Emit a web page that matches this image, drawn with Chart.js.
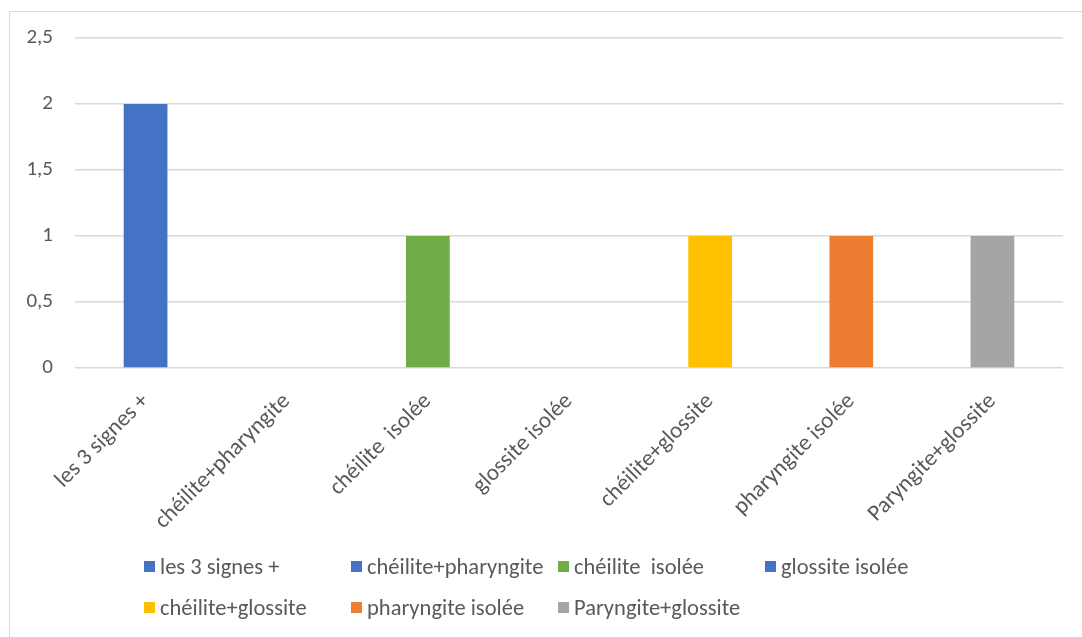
<!DOCTYPE html>
<html lang="fr">
<head>
  <meta charset="UTF-8" />
  <title>Signes cliniques</title>
  <script src="https://cdn.jsdelivr.net/npm/chart.js"></script>
  <style>
    body {
      margin: 0;
      background: #fff;
      font-family: Carlito, Lato, 'Liberation Sans', sans-serif;
    }
    .wrap {
      position: relative;
      width: 1082px;
      height: 637px;
      overflow: hidden;
    }
    .frame {
      position: absolute;
      left: 9px;
      top: 11px;
      width: 1200px;
      height: 800px;
      border: 1.5px solid #d9d9d9;
    }
    canvas {
      position: absolute;
      left: 0;
      top: 0;
    }
    .legend {
      position: absolute;
      left: 144px;
      top: 554px;
      display: grid;
      grid-template-columns: repeat(4, 207px);
      row-gap: 17px;
    }
    .legend div {
      display: flex;
      align-items: center;
      font-size: 22.5px;
      color: #595959;
      white-space: pre;
      height: 24px;
    }
    .legend span {
      display: inline-block;
      width: 11px;
      height: 11px;
      margin-right: 5px;
    }
  </style>
</head>
<body>
<div class="wrap">
  <div class="frame"></div>
  <canvas id="chart"></canvas>
  <div class="legend" id="legend"></div>
</div>

<script>
  const categories = ['les 3 signes +', 'chéilite+pharyngite', 'chéilite  isolée', 'glossite isolée',
                      'chéilite+glossite', 'pharyngite isolée', 'Paryngite+glossite'];
  const values = [2, 0, 1, 0, 1, 1, 1];
  const colors = ['#4472C4', '#4472C4', '#70AD47', '#4472C4', '#FFC000', '#ED7D31', '#A5A5A5'];
  const yTicks = [0, 0.5, 1, 1.5, 2, 2.5];

  const family = "Carlito, Lato, 'Liberation Sans', sans-serif";

  // legend, one entry per bar
  const legend = document.getElementById('legend');
  categories.forEach((c, i) => {
    const item = document.createElement('div');
    const box = document.createElement('span');
    box.style.background = colors[i];
    item.appendChild(box);
    item.appendChild(document.createTextNode(c));
    legend.appendChild(item);
  });

  const canvas = document.getElementById('chart');
  canvas.width = 1082;
  canvas.height = 637;

  new Chart(canvas, {
    type: 'bar',
    data: {
      labels: categories,
      datasets: [{
        data: values,
        backgroundColor: colors,
        categoryPercentage: 1,
        barPercentage: 0.31
      }]
    },
    options: {
      responsive: false,
      animation: false,
      layout: { padding: { left: 0, top: 38, right: 19, bottom: 0 } },
      plugins: {
        legend: { display: false },
        tooltip: { enabled: false }
      },
      scales: {
        x: {
          grid: { display: false, drawTicks: false },
          border: { display: false },
          ticks: {
            color: '#595959',
            font: { family: family, size: 23 },
            minRotation: 45,
            maxRotation: 45,
            autoSkip: false,
            padding: 20
          },
          afterFit(scale) { scale.height = 269; }
        },
        y: {
          min: 0,
          max: 2.5,
          grid: { color: '#d9d9d9', lineWidth: 1.5, drawTicks: false },
          border: { display: false },
          afterBuildTicks(scale) { scale.ticks = yTicks.map(v => ({ value: v })); },
          ticks: {
            color: '#595959',
            font: { family: family, size: 21 },
            padding: 22,
            callback: v => String(v).replace('.', ',')
          },
          afterFit(scale) { scale.width = 75; }
        }
      }
    }
  });
</script>
</body>
</html>
